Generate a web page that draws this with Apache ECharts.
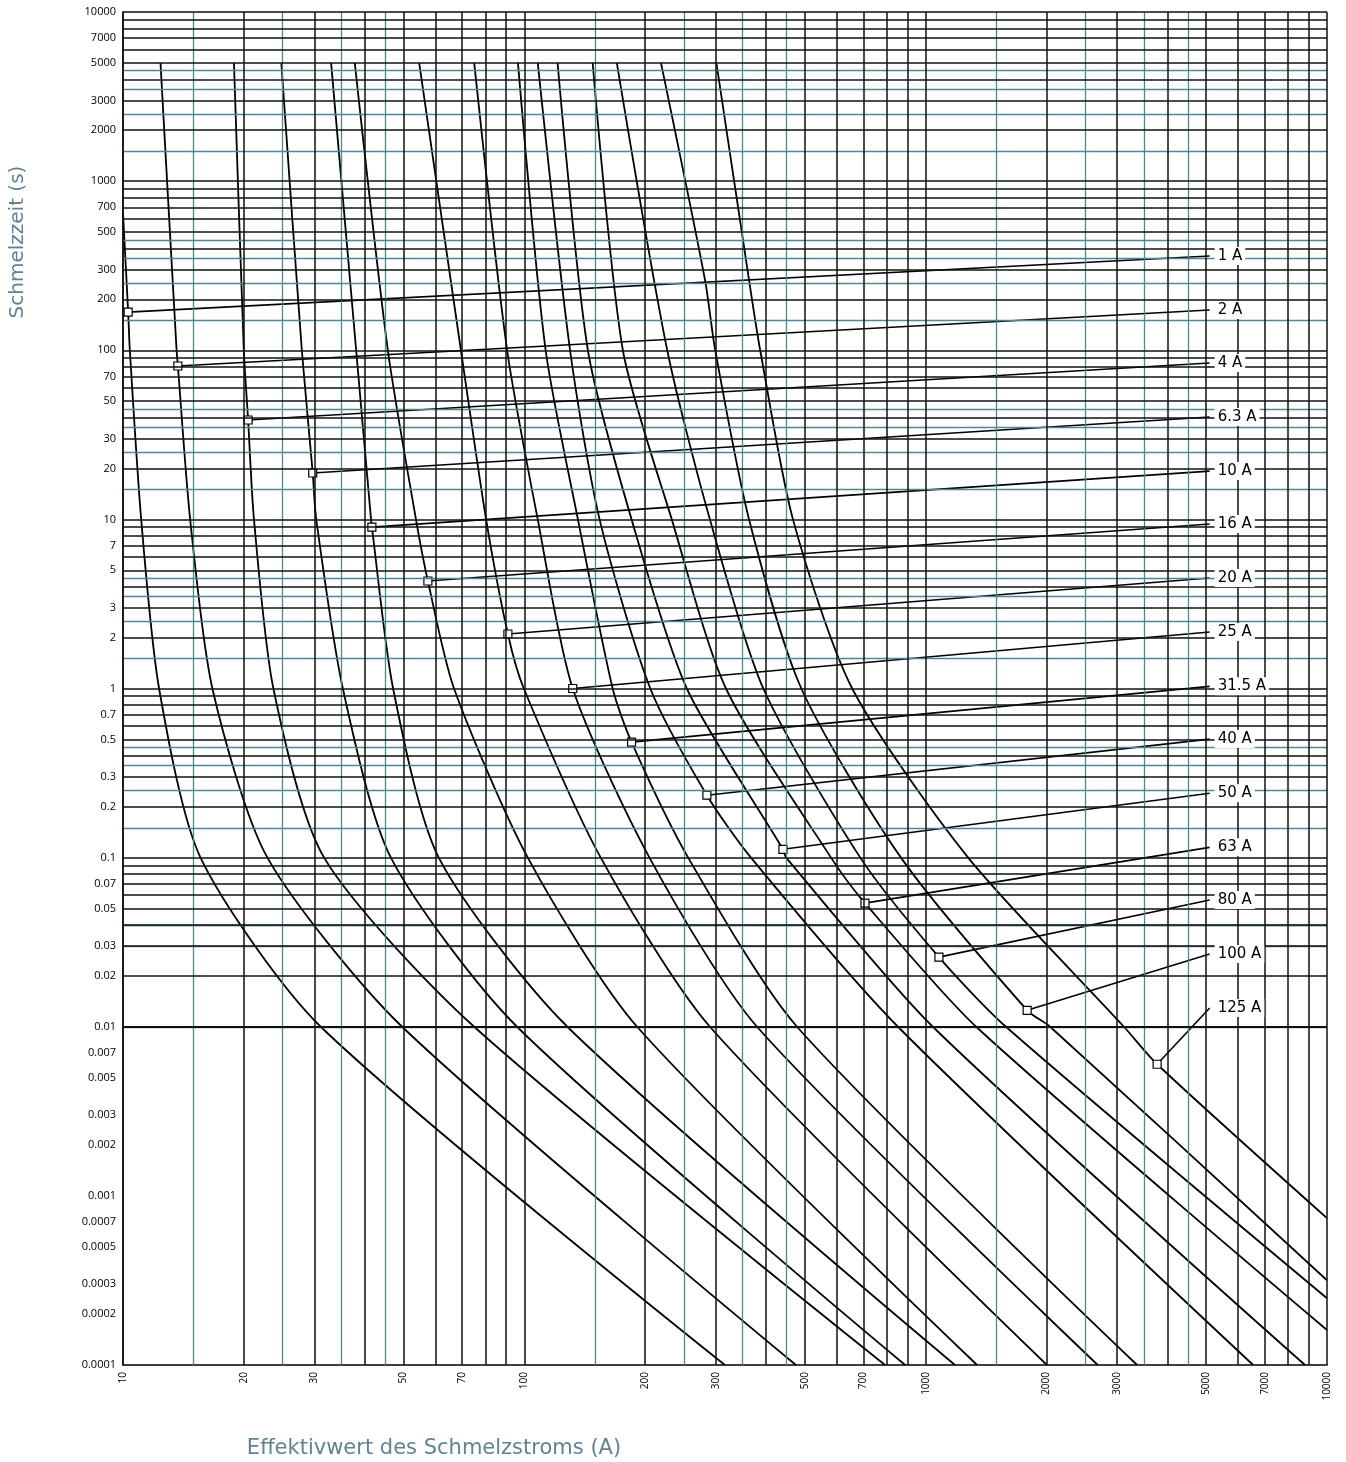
<!DOCTYPE html>
<html>
<head>
    <meta charset="UTF-8">
    <title>Schmelzzeit-Kennlinien</title>
    <script src="https://cdn.jsdelivr.net/npm/echarts@6.0.0/dist/echarts.min.js"></script>
    <style>
        html, body { margin: 0; padding: 0; background: #fff; }
        #chart { width: 1346px; height: 1462px; }
    </style>
</head>
<body>
    <div id="chart"></div>
    <script>
        // Kennlinien: [Strom (A), Schmelzzeit (s)]
        const c1 = [[10, 647], [10.3, 168], [10.4, 100], [11.1, 10], [12.3, 1], [15.6, 0.1], [31.1, 0.01], [316, 0.0001]];
        const c2 = [[12.4, 5000], [13.6, 100], [13.7, 80.7], [14.7, 10], [16.7, 1], [22.9, 0.1], [49.6, 0.01], [475, 0.0001]];
        const c4 = [[18.9, 5000], [20.0, 100], [20.5, 38.7], [21.2, 10], [23.7, 1], [31.7, 0.1], [75, 0.01], [792, 0.0001]];
        const c6 = [[24.8, 5000], [27.9, 100], [29.7, 18.8], [30.3, 10], [35.3, 1], [46.5, 0.1], [95.9, 0.01], [889, 0.0001]];
        const c10 = [[33, 5000], [38.1, 100], [41.5, 10], [41.7, 9.0], [47.1, 1], [61.2, 0.1], [128, 0.01], [1183, 0.0001]];
        const c16 = [[37.8, 5000], [45.7, 100], [53.7, 10], [57.5, 4.32], [66.8, 1], [102, 0.1], [191, 0.01], [1343, 0.0001]];
        const c20 = [[54.7, 5000], [69.5, 100], [80.3, 10], [91, 2.1], [99.7, 1], [155, 0.1], [290, 0.01], [2005, 0.0001]];
        const c25 = [[75, 5000], [90.6, 100], [108, 10], [132, 1], [205, 0.1], [380, 0.01], [2685, 0.0001]];
        const c31 = [[96.4, 5000], [113, 100], [136, 10], [166, 1], [185, 0.482], [256, 0.1], [478, 0.01], [3365, 0.0001]];
        const c40 = [[108, 5000], [130, 100], [154, 10], [206, 1], [285, 0.234], [367, 0.1], [853, 0.01], [6546, 0.0001]];
        const c50 = [[121, 5000], [144, 100], [185, 10], [254, 1], [441, 0.112], [449, 0.1], [1042, 0.01], [8813, 0.0001]];
        const c63 = [[148, 5000], [176, 100], [233, 10], [318, 1], [581, 0.1], [706, 0.0538], [1336, 0.01], [10000, 0.000161]];
        const c80 = [[170, 5000], [227, 100], [290, 10], [394, 1], [687, 0.1], [1079, 0.0258], [1585, 0.01], [10000, 0.000248]];
        const c100 = [[219, 5000], [282, 260], [299, 100], [363, 10], [490, 1], [868, 0.1], [1790, 0.0125], [2042, 0.01], [10000, 0.000317]];
        const c125 = [[301, 5000], [363, 260], [387, 100], [467, 10], [656, 1], [1276, 0.1], [3119, 0.01], [3773, 0.006], [10000, 0.000738]];

        const curves = [c1, c2, c4, c6, c10, c16, c20, c25, c31, c40, c50, c63, c80, c100, c125];
        const ratings = ['1 A', '2 A', '4 A', '6.3 A', '10 A', '16 A', '20 A', '25 A', '31.5 A', '40 A', '50 A', '63 A', '80 A', '100 A', '125 A'];

        // Markierung auf der Kennlinie und Beschriftungspunkt rechts
        const markerAmps = [10.3, 13.7, 20.5, 29.7, 41.7, 57.5, 91, 132, 185, 285, 441, 706, 1079, 1790, 3773];
        const markerTimes = [168, 80.7, 38.7, 18.8, 9.0, 4.32, 2.1, 1.0, 0.482, 0.234, 0.112, 0.0538, 0.0258, 0.0125, 0.006];
        const labelAmp = 5100;
        const labelTimes = [361, 173, 84, 40.3, 19.3, 9.38, 4.5, 2.16, 1.03, 0.502, 0.24, 0.115, 0.0561, 0.0269, 0.0129];

        const xTickLabels = ['10', '20', '30', '50', '70', '100', '200', '300', '500', '700', '1000', '2000', '3000', '5000', '7000', '10000'];
        const yTickLabels = ['10000', '7000', '5000', '3000', '2000', '1000', '700', '500', '300', '200', '100', '70', '50', '30', '20', '10',
            '7', '5', '3', '2', '1', '0.7', '0.5', '0.3', '0.2', '0.1', '0.07', '0.05', '0.03', '0.02', '0.01',
            '0.007', '0.005', '0.003', '0.002', '0.001', '0.0007', '0.0005', '0.0003', '0.0002', '0.0001'];

        const blackSteps = [1, 2, 3, 4, 5, 6, 7, 8, 9];
        const tealSteps = [1.5, 2.5, 3.5, 4.5];
        const xDecades = [10, 100, 1000];
        const yDecades = [0.0001, 0.001, 0.01, 0.1, 1, 10, 100, 1000];

        const TEAL = '#4f8793';
        const TEXT = '#5f8391';

        function gridValues(decades, steps, maxV) {
            const out = [];
            decades.forEach(d => steps.forEach(s => out.push(+(d * s).toPrecision(6))));
            if (maxV) out.push(maxV);
            return out;
        }

        const gridLines = [];
        const teal = { color: TEAL, width: 1.3, type: 'solid' };
        const black = { color: '#111', width: 1.5, type: 'solid' };
        gridValues(xDecades, tealSteps).forEach(v => gridLines.push({ xAxis: v, lineStyle: teal }));
        gridValues(yDecades, tealSteps).forEach(v => gridLines.push({ yAxis: v, lineStyle: teal }));
        gridValues(xDecades, blackSteps, 10000).forEach(v => gridLines.push({ xAxis: v, lineStyle: black }));
        gridValues(yDecades, blackSteps, 10000).forEach(v => gridLines.push({ yAxis: v, lineStyle: black }));

        const series = [{
            type: 'line',
            data: [[10, 1]],
            symbol: 'none',
            lineStyle: { width: 0 },
            silent: true,
            z: 1,
            markLine: {
                silent: true,
                symbol: 'none',
                label: { show: false },
                animation: false,
                lineStyle: { type: 'solid' },
                data: gridLines
            }
        }];

        curves.forEach((c, i) => {
            series.push({
                type: 'line',
                name: ratings[i],
                data: c,
                smooth: 0.25,
                symbol: 'none',
                lineStyle: { color: '#000', width: 1.8 },
                z: 3
            });
            series.push({
                type: 'line',
                data: [
                    { value: [markerAmps[i], markerTimes[i]], symbol: 'rect', symbolSize: 8 },
                    { value: [labelAmp, labelTimes[i]], symbol: 'none' }
                ],
                showAllSymbol: true,
                itemStyle: { color: '#fff', borderColor: '#000', borderWidth: 1.2 },
                lineStyle: { color: '#000', width: 1.6 },
                z: 4
            });
        });

        const chart = echarts.init(document.getElementById('chart'));
        chart.setOption({
            animation: false,
            backgroundColor: '#fff',
            grid: { left: 123, right: 19, top: 12, bottom: 97 },
            xAxis: {
                type: 'log', min: 10, max: 10000, logBase: 10,
                axisLine: { show: true, lineStyle: { color: '#000', width: 1.5 } },
                axisTick: { show: false }, axisLabel: { show: false }, splitLine: { show: false }
            },
            yAxis: {
                type: 'log', min: 0.0001, max: 10000, logBase: 10,
                axisLine: { show: true, lineStyle: { color: '#000', width: 1.5 } },
                axisTick: { show: false }, axisLabel: { show: false }, splitLine: { show: false }
            },
            series: series
        });

        const toPx = v => chart.convertToPixel({ xAxisIndex: 0, yAxisIndex: 0 }, v);
        const graphics = [];
        xTickLabels.forEach(s => {
            const p = toPx([Number(s), 0.0001]);
            graphics.push({
                type: 'text', x: p[0], y: p[1] + 7, rotation: Math.PI / 2,
                style: { text: s, fill: '#000', fontSize: 10, fontFamily: 'Open Sans', align: 'right', verticalAlign: 'middle' }
            });
        });
        yTickLabels.forEach(s => {
            const p = toPx([10, Number(s)]);
            graphics.push({
                type: 'text', x: p[0] - 7, y: p[1],
                style: { text: s, fill: '#000', fontSize: 11, fontFamily: 'Open Sans', align: 'right', verticalAlign: 'middle' }
            });
        });
        ratings.forEach((r, i) => {
            const p = toPx([labelAmp, labelTimes[i]]);
            graphics.push({
                type: 'text', x: p[0] + 5, y: p[1], z: 100,
                style: {
                    text: r, fill: '#000', fontSize: 15, fontFamily: 'DejaVu Sans',
                    align: 'left', verticalAlign: 'middle',
                    backgroundColor: '#fff', padding: [2, 3, 1, 3]
                }
            });
        });
        graphics.push({
            type: 'text', x: 18, y: 242, rotation: Math.PI / 2,
            style: { text: 'Schmelzzeit (s)', fill: TEXT, fontSize: 20, fontFamily: 'DejaVu Sans', align: 'center', verticalAlign: 'middle' }
        });
        graphics.push({
            type: 'text', x: 434, y: 1449,
            style: { text: 'Effektivwert des Schmelzstroms (A)', fill: TEXT, fontSize: 21, fontFamily: 'DejaVu Sans', align: 'center', verticalAlign: 'middle' }
        });
        chart.setOption({ graphic: graphics });
    </script>
</body>
</html>
